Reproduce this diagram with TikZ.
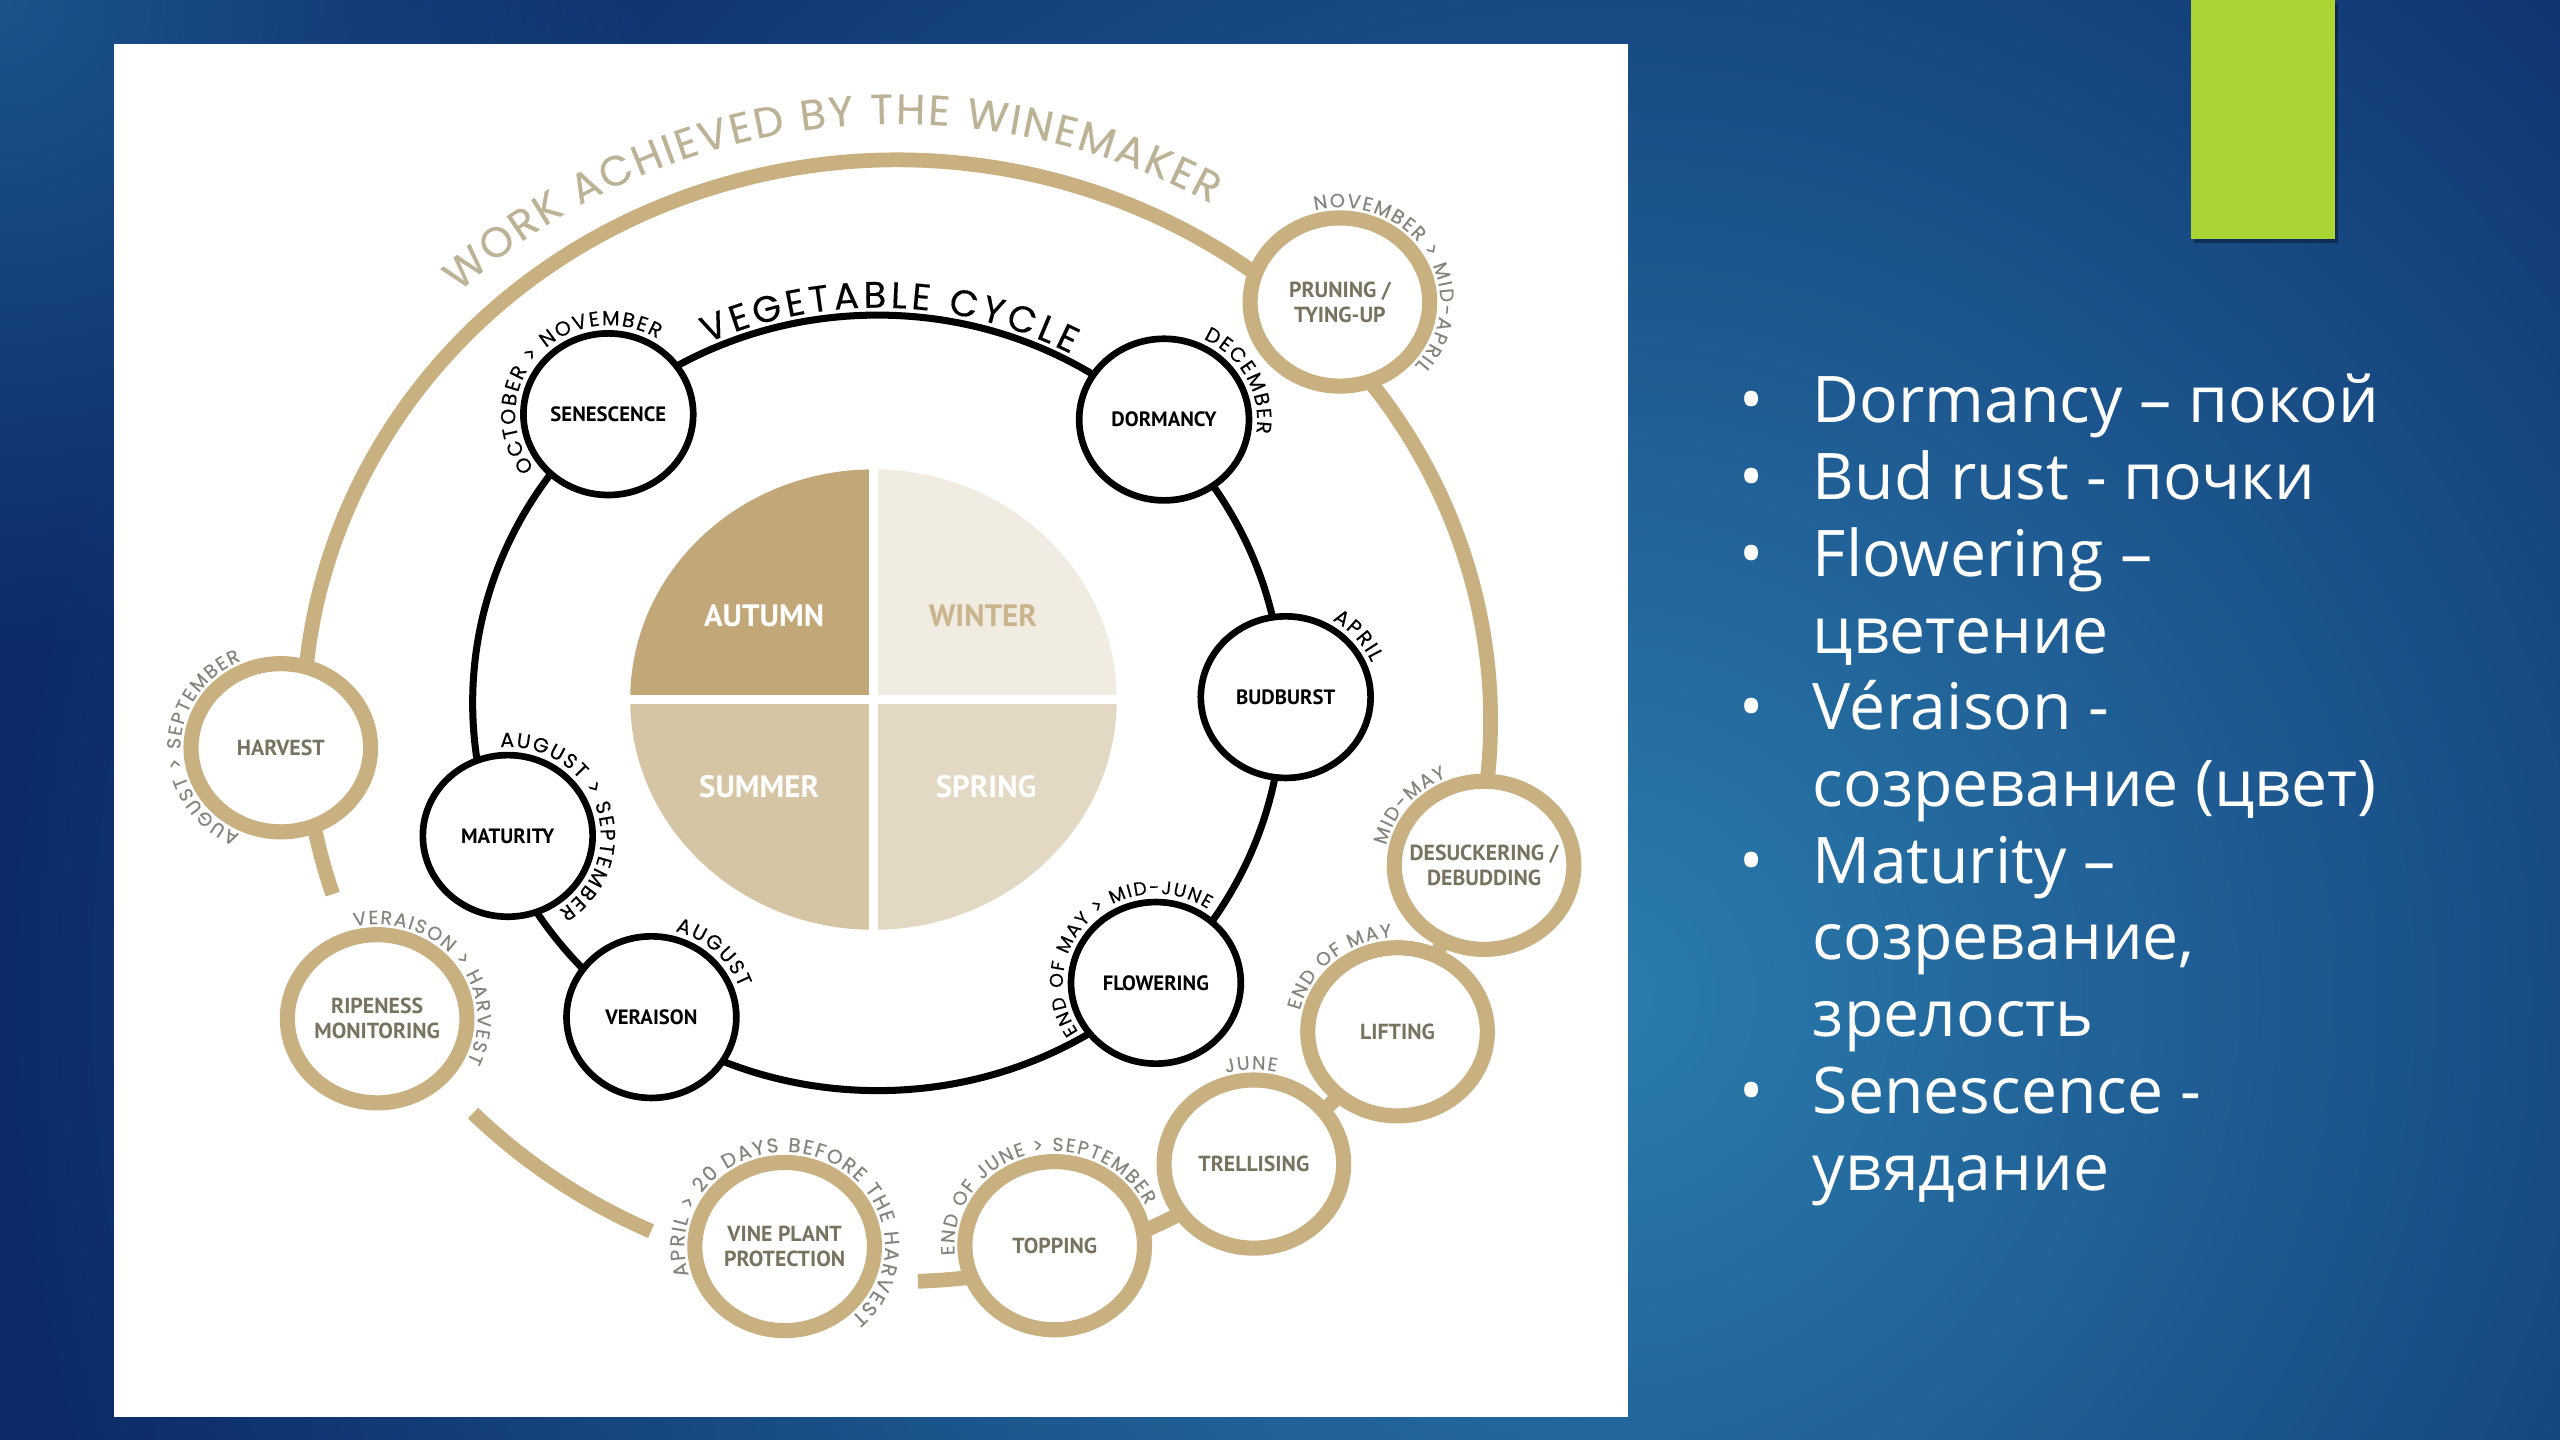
\documentclass[tikz,border=0pt]{standalone}
\usepackage{fontspec}
\setmainfont{Open Sans}
\newfontfamily\arcfont[FakeBold=0.3]{Poppins}
\newfontfamily\capfont{PT Sans}
\usetikzlibrary{shapes.geometric,decorations.text,fadings}
\definecolor{gold}{HTML}{C8B080}
\definecolor{olive}{HTML}{77735F}
\definecolor{greytxt}{HTML}{85847D}
\definecolor{worktxt}{HTML}{BCB296}
\definecolor{autumn}{HTML}{C2A878}
\definecolor{winter}{HTML}{F1ECE2}
\definecolor{summer}{HTML}{D6C5A4}
\definecolor{spring}{HTML}{E3D8C3}
\definecolor{wintertxt}{HTML}{C9B48E}
\definecolor{bgdark}{HTML}{0C2A68}
\definecolor{bglight}{HTML}{2B7DAF}
\definecolor{lime}{HTML}{ABD435}
\tikzfading[name=glow,inner color=transparent!0,outer color=transparent!100]
\newcommand\bul{\llap{•\hspace{14pt}}}
\newcommand\arclabel[7]{\path[decorate,decoration={text along path,text align=center,text color=#5,
  text={|\arcfont\fontsize{#6}{#6}\selectfont\kern.085em|#7}}]
  ([shift={(#2+170:#3 and #4)}]#1.center) arc[start angle=#2+170,end angle=#2-170,x radius=#3,y radius=#4];}
\begin{document}
\begin{tikzpicture}[x=0.016327cm,y=0.016327cm,line join=round,
  stage/.style={ellipse,draw=black,line width=1.9pt,fill=white,minimum width=1.698cm,minimum height=1.616cm,
    inner sep=-6pt,align=center,font=\capfont\bfseries\fontsize{5.9}{7}\selectfont},
  task/.style={ellipse,draw=gold,line width=4.3pt,fill=white,minimum width=1.796cm,minimum height=1.682cm,
    inner sep=-6pt,align=center,text=olive,font=\capfont\bfseries\fontsize{6.2}{7.1}\selectfont},
  season/.style={font=\capfont\bfseries\fontsize{8.8}{10}\selectfont},
  listline/.style={anchor=base west,text=white,inner sep=0pt,font=\fontsize{18.3}{22}\selectfont}]
\useasboundingbox (0,0) rectangle (1568,-882);
\begin{scope}
\clip (0,0) rectangle (1568,-882);
\fill[bgdark] (0,0) rectangle (1568,-882);
\fill[bglight,path fading=glow] (980,-610) circle (980);
\fill[bglight,path fading=glow,opacity=.5] (0,0) circle (400);
\end{scope}
\fill[white] (70,-27) rectangle (997,-868);
\fill[black,opacity=.35] (1344,-2) rectangle (1432,-149);
\fill[lime] (1342,0) rectangle (1430,-146.5);

\coordinate (work) at (549.5,-441.5);
\coordinate (cycle) at (537.5,-430.5);
\coordinate (pie) at (535,-428.5);
\draw[gold,line width=4.2pt] (work) ++(198:363.5 and 343.5) arc[start angle=198,end angle=-88,x radius=363.5,y radius=343.5];
\draw[gold,line width=4.2pt] (work) ++(224.4:363.5 and 343.5) arc[start angle=224.4,end angle=245.5,x radius=363.5,y radius=343.5];
\draw[line width=2pt] (cycle) ellipse[x radius=248,y radius=237.5];

\fill[autumn] (pie) -- ++(180:149 and 141) arc[start angle=180,end angle=90,x radius=149,y radius=141] -- cycle;
\fill[winter] (pie) -- ++(90:149 and 141) arc[start angle=90,end angle=0,x radius=149,y radius=141] -- cycle;
\fill[spring] (pie) -- ++(0:149 and 141) arc[start angle=0,end angle=-90,x radius=149,y radius=141] -- cycle;
\fill[summer] (pie) -- ++(-90:149 and 141) arc[start angle=-90,end angle=-180,x radius=149,y radius=141] -- cycle;
\draw[white,line width=2.5pt] (pie) ++(-152,0) -- ++(304,0);
\draw[white,line width=2.5pt] (pie) ++(0,144) -- ++(0,-288);
\node[season,text=white] (autumn) at (468,-377) {AUTUMN};
\node[season,text=wintertxt] (winter) at (602,-377) {WINTER};
\node[season,text=white] (summer) at (465,-482) {SUMMER};
\node[season,text=white] (spring) at (604,-482) {SPRING};

\node[stage] (senescence) at (372.6,-253.7) {SENESCENCE};
\node[stage] (dormancy) at (713,-257) {DORMANCY};
\node[stage] (budburst) at (787.5,-427) {BUDBURST};
\node[stage] (flowering) at (708,-602) {FLOWERING};
\node[stage] (veraison) at (399,-623) {VERAISON};
\node[stage] (maturity) at (311,-512) {MATURITY};

\node[task] (pruning) at (820.7,-185) {PRUNING /\\TYING-UP};
\node[task] (harvest) at (172,-458) {HARVEST};
\node[task] (ripeness) at (231,-624) {RIPENESS\\MONITORING};
\node[task] (vineplant) at (480.6,-763.5) {VINE PLANT\\PROTECTION};
\node[task] (topping) at (646,-763) {TOPPING};
\node[task] (trellising) at (768,-713) {TRELLISING};
\node[task] (lifting) at (856,-632) {LIFTING};
\node[task] (desuckering) at (909,-530) {DESUCKERING /\\DEBUDDING};

\arclabel{senescence}{137}{57}{54.5}{black}{5.8}{OCTOBER > NOVEMBER}
\arclabel{dormancy}{29}{57}{54.5}{black}{5.8}{DECEMBER}
\arclabel{budburst}{42}{57}{54.5}{black}{5.8}{APRIL}
\arclabel{flowering}{134}{57}{54.5}{black}{5.3}{END OF MAY > MID-JUNE}
\arclabel{veraison}{48}{57}{54.5}{black}{5.8}{AUGUST}
\arclabel{maturity}{20}{57}{54.5}{black}{5.8}{AUGUST > SEPTEMBER}
\arclabel{pruning}{33}{61.5}{58}{greytxt}{5.5}{NOVEMBER > MID-APRIL}
\arclabel{harvest}{180}{61.5}{58}{greytxt}{5.4}{AUGUST > SEPTEMBER}
\arclabel{ripeness}{40}{61.5}{58}{greytxt}{5.4}{VERAISON > HARVEST}
\arclabel{vineplant}{75.5}{61.5}{58}{greytxt}{5.7}{APRIL > 20 DAYS BEFORE THE HARVEST}
\arclabel{topping}{105}{61.5}{58}{greytxt}{5.4}{END OF JUNE > SEPTEMBER}
\arclabel{trellising}{92}{61.5}{58}{greytxt}{5.4}{JUNE}
\arclabel{lifting}{130}{61.5}{58}{greytxt}{5.4}{END OF MAY}
\arclabel{desuckering}{140}{61.5}{58}{greytxt}{5.4}{MID-MAY}

\path[decorate,decoration={text along path,text align=center,
  text={|\arcfont\fontsize{10.5}{10.5}\selectfont\kern1.2pt|VEGETABLE CYCLE}}]
  (cycle) ++(150:252 and 242) arc[start angle=150,end angle=27,x radius=252,y radius=242];
\path[decorate,decoration={text along path,text align=center,text color=worktxt,
  text={|\arcfont\fontsize{12}{12}\selectfont\kern.7pt|WORK ACHIEVED BY THE WINEMAKER}}]
  (work) ++(170:385.5 and 365.5) arc[start angle=170,end angle=24.8,x radius=385.5,y radius=365.5];

\foreach \t [count=\i] in {{\bul Dormancy – покой},{\bul Bud rust - почки},{\bul Flowering –},цветение,
  {\bul Véraison -},{созревание (цвет)},{\bul Maturity –},{созревание,},зрелость,{\bul Senescence -},увядание}
  \node[listline] (line\i) at (1110,{-259-47*(\i-1)}) {\t};
\end{tikzpicture}
\end{document}
